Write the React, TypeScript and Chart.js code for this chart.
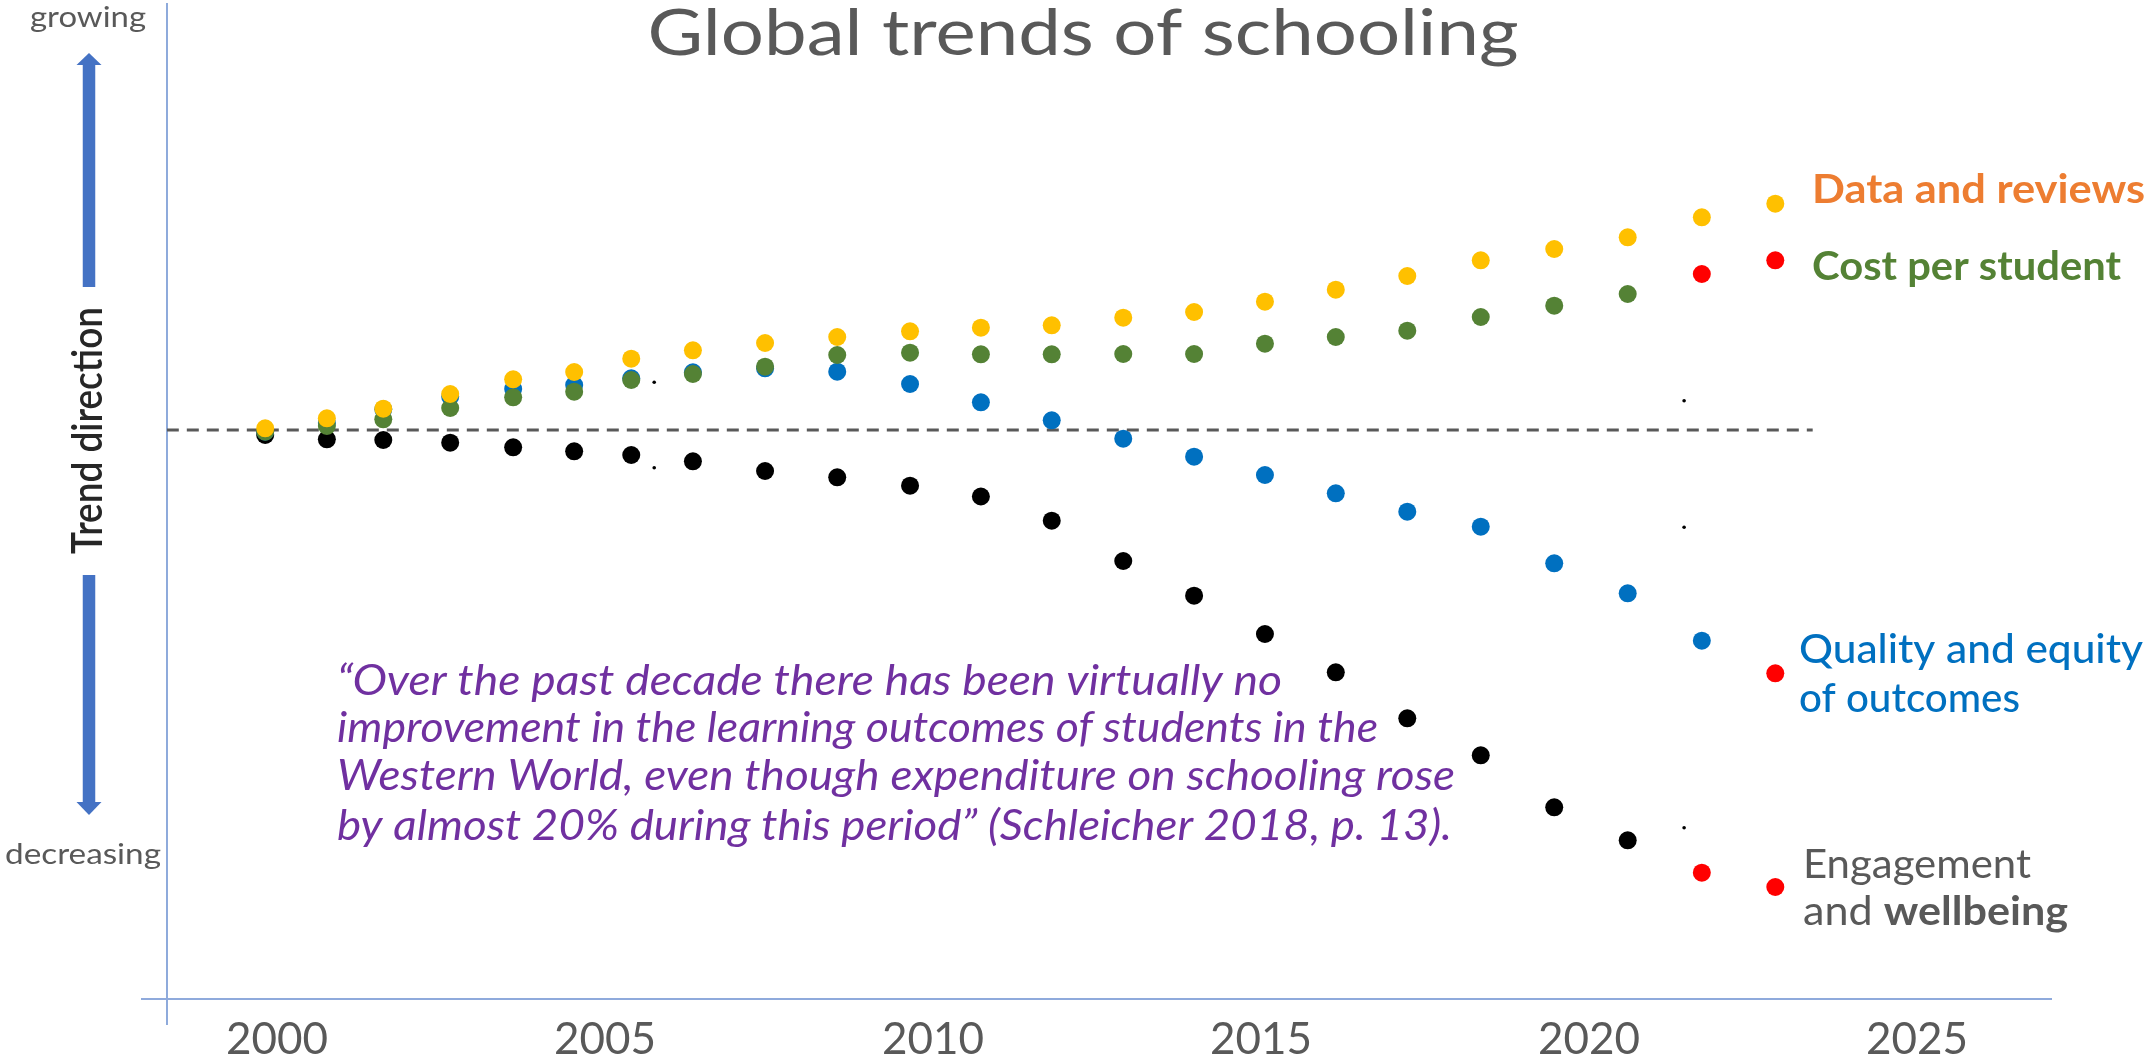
import React, { useEffect, useRef } from 'react';
import { Chart, registerables } from 'chart.js';

Chart.register(...registerables);

// ---------- data ----------
const years = [
  1999.82, 2000.76, 2001.62, 2002.64, 2003.6, 2004.53, 2005.4, 2006.34, 2007.44, 2008.54,
  2009.65, 2010.73, 2011.81, 2012.9, 2013.98, 2015.06, 2016.14, 2017.23, 2018.35, 2019.47,
  2020.59, 2021.72, 2022.84,
];

const dataReviews = [
  0.17, 1.17, 2.13, 3.6, 5.07, 5.8, 7.13, 7.97, 8.7, 9.3, 9.87, 10.23, 10.47, 11.23, 11.8,
  12.83, 14.03, 15.4, 16.97, 18.1, 19.27, 21.27, 22.63,
];
const costPerStudent = [
  -0.17, 0.4, 1.07, 2.2, 3.27, 3.83, 5.0, 5.6, 6.33, 7.5, 7.73, 7.57, 7.57, 7.6, 7.6, 8.63,
  9.3, 9.93, 11.3, 12.43, 13.6, 15.6, 16.97,
];
const qualityEquity = [
  -0.17, 0.7, 2.07, 3.33, 4.1, 4.5, 5.17, 5.77, 6.17, 5.83, 4.6, 2.77, 0.97, -0.87, -2.67,
  -4.5, -6.33, -8.17, -9.67, -13.33, -16.33, -21.07, -24.33,
];
const engagement = [
  -0.5, -0.93, -1.0, -1.27, -1.73, -2.13, -2.5, -3.13, -4.1, -4.73, -5.57, -6.65, -9.07, -13.1,
  -16.57, -20.4, -24.23, -28.83, -32.53, -37.73, -41.03, -44.27, -45.7,
];

// index from which each series is drawn as a (red) projection; -1 = none
const reviewsProjectionFrom = -1;
const costProjectionFrom = 21;
const qualityProjectionFrom = 22;
const engagementProjectionFrom = 21;

// tiny stray marks
const markYears = [2005.75, 2005.75, 2021.45, 2021.45, 2021.45];
const markValues = [4.77, -3.77, 2.93, -9.73, -39.77];

// dashed reference line (no change)
const baselineYears = [1998.32, 2023.41];
const baselineValues = [0, 0];

const xTicks = [2000, 2005, 2010, 2015, 2020, 2025];
const X_MIN = 1998.323;
const X_MAX = 2027.058;
const Y_MIN = -56.9;
const Y_MAX = 43.0;

const title = 'Global trends of schooling';
const quoteLines = [
  '\u201COver the past decade there has been virtually no',
  'improvement in the learning outcomes of students in the',
  'Western World, even though expenditure on schooling rose',
  'by almost 20% during this period\u201D (Schleicher 2018, p. 13).',
];

// ---------- styling ----------
const W = 2150;
const H = 1064;
const FONT = "Lato, 'Noto Sans', sans-serif";
const GRAY = '#595959';
const YELLOW = '#FFC000';
const GREEN = '#548235';
const BLUE = '#0070C0';
const BLACK = '#000000';
const RED = '#FF0000';
const ARROW = '#4472C4';

const colorsFor = (n: number, base: string, from: number) =>
  Array.from({ length: n }, (_, i) => (from >= 0 && i >= from ? RED : base));

const pts = (xs: number[], ys: number[]) => xs.map((x, i) => ({ x, y: ys[i] }));

type Run = { text: string; font: string };

function fitRuns(
  ctx: CanvasRenderingContext2D,
  runs: Run[],
  x: number,
  y: number,
  width: number,
  color: string,
  align: 'left' | 'center' = 'left',
) {
  ctx.save();
  ctx.fillStyle = color;
  ctx.textBaseline = 'alphabetic';
  ctx.textAlign = 'left';
  let total = 0;
  const ws = runs.map((r) => {
    ctx.font = r.font;
    const w = ctx.measureText(r.text).width;
    total += w;
    return w;
  });
  const s = width / total;
  const left = align === 'center' ? x - width / 2 : x;
  ctx.translate(left, y);
  ctx.scale(s, 1);
  let cx = 0;
  runs.forEach((r, i) => {
    ctx.font = r.font;
    ctx.fillText(r.text, cx, 0);
    cx += ws[i];
  });
  ctx.restore();
}

function fitText(
  ctx: CanvasRenderingContext2D,
  text: string,
  x: number,
  y: number,
  width: number,
  font: string,
  color: string,
  align: 'left' | 'center' = 'left',
) {
  fitRuns(ctx, [{ text, font }], x, y, width, color, align);
}

function drawArrow(ctx: CanvasRenderingContext2D, cx: number, y0: number, y1: number, tipY: number) {
  // shaft from y0 to y1, head from y1 to tipY
  ctx.save();
  ctx.fillStyle = ARROW;
  const half = 6.25;
  ctx.fillRect(cx - half, Math.min(y0, y1), half * 2, Math.abs(y1 - y0));
  ctx.beginPath();
  ctx.moveTo(cx - 12.5, y1);
  ctx.lineTo(cx + 12.5, y1);
  ctx.lineTo(cx, tipY);
  ctx.closePath();
  ctx.fill();
  ctx.restore();
}

const decorPlugin = {
  id: 'decor',
  beforeDatasetsDraw(chart: any) {
    const { ctx, chartArea } = chart;
    ctx.save();
    // vertical axis line
    ctx.strokeStyle = ARROW;
    ctx.lineWidth = 1.2;
    ctx.beginPath();
    ctx.moveTo(chartArea.left, chartArea.top + 3);
    ctx.lineTo(chartArea.left, chartArea.bottom + 26);
    ctx.stroke();
    // horizontal axis line
    ctx.strokeStyle = '#8FAADC';
    ctx.lineWidth = 2;
    ctx.beginPath();
    ctx.moveTo(chartArea.left - 26, chartArea.bottom);
    ctx.lineTo(chartArea.right, chartArea.bottom);
    ctx.stroke();
    ctx.restore();
  },
  afterDraw(chart: any) {
    const ctx: CanvasRenderingContext2D = chart.ctx;
    // title
    fitText(ctx, title, 1083, 55, 871, `64px ${FONT}`, GRAY, 'center');

    // left axis annotations
    fitText(ctx, 'growing', 88, 27, 116, `29px ${FONT}`, GRAY, 'center');
    fitText(ctx, 'decreasing', 83, 864, 156, `29px ${FONT}`, GRAY, 'center');
    drawArrow(ctx, 89, 287, 65, 53);
    drawArrow(ctx, 89, 575, 802, 815);

    ctx.save();
    ctx.translate(102, 430.5);
    ctx.rotate(-Math.PI / 2);
    fitText(ctx, 'Trend direction', 0, 0, 247, `600 42px ${FONT}`, '#262626', 'center');
    ctx.restore();

    // right-hand labels
    fitText(ctx, 'Data and reviews', 1812, 203, 333, `bold 40px ${FONT}`, '#ED7D31');
    fitText(ctx, 'Cost per student', 1812, 280, 309, `bold 40px ${FONT}`, GREEN);
    fitText(ctx, 'Quality and equity', 1799, 663, 344, `500 41px ${FONT}`, BLUE);
    fitText(ctx, 'of outcomes', 1799, 712, 221, `500 41px ${FONT}`, BLUE);
    fitText(ctx, 'Engagement', 1803, 878, 228, `41px ${FONT}`, GRAY);
    fitRuns(
      ctx,
      [
        { text: 'and ', font: `41px ${FONT}` },
        { text: 'wellbeing', font: `bold 41px ${FONT}` },
      ],
      1803,
      925,
      265,
      GRAY,
    );

    // quote
    const qWidths = [945, 1041, 1118, 1115];
    const qBase = [695, 742, 790, 840];
    quoteLines.forEach((line, i) => {
      fitText(ctx, line, 337, qBase[i], qWidths[i], `italic 43px ${FONT}`, '#7030A0');
    });
  },
};

export default function App() {
  const ref = useRef<HTMLCanvasElement>(null);

  useEffect(() => {
    const canvas = ref.current;
    if (!canvas) return;
    const n = years.length;
    const dot = { showLine: false, pointRadius: 9, pointHoverRadius: 9, pointBorderWidth: 0 };
    const chart = new Chart(canvas, {
      type: 'scatter',
      data: {
        datasets: [
          {
            label: 'Data and reviews',
            data: pts(years, dataReviews),
            pointBackgroundColor: colorsFor(n, YELLOW, reviewsProjectionFrom),
            pointBorderColor: colorsFor(n, YELLOW, reviewsProjectionFrom),
            ...dot,
          },
          {
            label: 'Cost per student',
            data: pts(years, costPerStudent),
            pointBackgroundColor: colorsFor(n, GREEN, costProjectionFrom),
            pointBorderColor: colorsFor(n, GREEN, costProjectionFrom),
            ...dot,
          },
          {
            label: 'Quality and equity of outcomes',
            data: pts(years, qualityEquity),
            pointBackgroundColor: colorsFor(n, BLUE, qualityProjectionFrom),
            pointBorderColor: colorsFor(n, BLUE, qualityProjectionFrom),
            ...dot,
          },
          {
            label: 'Engagement and wellbeing',
            data: pts(years, engagement),
            pointBackgroundColor: colorsFor(n, BLACK, engagementProjectionFrom),
            pointBorderColor: colorsFor(n, BLACK, engagementProjectionFrom),
            ...dot,
          },
          {
            label: 'marks',
            data: pts(markYears, markValues),
            showLine: false,
            pointRadius: 1.8,
            pointBorderWidth: 0,
            pointBackgroundColor: BLACK,
            pointBorderColor: BLACK,
          },
          {
            label: 'baseline',
            data: pts(baselineYears, baselineValues),
            showLine: true,
            borderColor: GRAY,
            borderWidth: 3,
            borderDash: [12, 8],
            pointRadius: 0,
            fill: false,
          },
        ],
      },
      options: {
        responsive: false,
        animation: false,
        devicePixelRatio: 1,
        events: [],
        layout: { autoPadding: false, padding: { left: 167, right: 98, top: 0, bottom: 0 } },
        plugins: {
          legend: { display: false },
          tooltip: { enabled: false },
          title: { display: false },
        },
        scales: {
          x: {
            type: 'linear',
            min: X_MIN,
            max: X_MAX,
            afterBuildTicks: (axis: any) => {
              axis.ticks = xTicks.map((v) => ({ value: v }));
            },
            afterFit: (axis: any) => {
              axis.height = 65;
            },
            grid: { display: false, drawTicks: false },
            border: { display: false },
            ticks: {
              padding: 14,
              autoSkip: false,
              maxRotation: 0,
              color: GRAY,
              font: { family: FONT, size: 44 },
              callback: (v: any) => String(v),
            },
          },
          y: {
            type: 'linear',
            display: false,
            min: Y_MIN,
            max: Y_MAX,
          },
        },
      },
      plugins: [decorPlugin],
    } as any);
    return () => chart.destroy();
  }, []);

  return (
    <div style={{ position: 'fixed', left: 0, top: 0, width: W, height: H, background: '#fff' }}>
      <canvas ref={ref} width={W} height={H} style={{ width: W, height: H, display: 'block' }} />
    </div>
  );
}
